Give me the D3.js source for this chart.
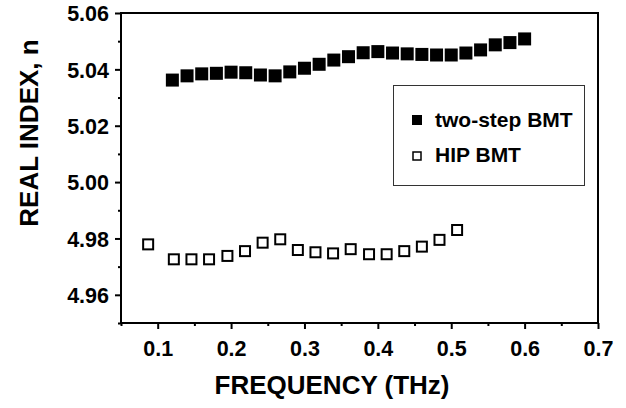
<!DOCTYPE html>
<html lang="en">
<head>
  <meta charset="UTF-8">
  <title>Real index vs frequency</title>
  <script src="https://d3js.org/d3.v7.min.js"></script>
  <style>
    body { margin: 0; background: #fff; }
    svg text { font-family: "Liberation Sans", Arial, sans-serif; font-weight: bold; fill: #000; }
  </style>
</head>
<body>
  <svg width="626" height="408"></svg>
  <script>
    // two-step BMT (filled squares)
    const freqTwoStep = [0.12, 0.14, 0.16, 0.18, 0.20, 0.22, 0.24, 0.26, 0.28, 0.30, 0.32, 0.34, 0.36,
                         0.38, 0.40, 0.42, 0.44, 0.46, 0.48, 0.50, 0.52, 0.54, 0.56, 0.58, 0.60];
    const indexTwoStep = [5.0362, 5.0377, 5.0384, 5.0386, 5.0390, 5.0388, 5.0380, 5.0377, 5.0391, 5.0404,
                          5.0418, 5.0433, 5.0445, 5.0459, 5.0463, 5.0458, 5.0455, 5.0453, 5.0451, 5.0451,
                          5.0458, 5.0469, 5.0487, 5.0495, 5.0508];

    // HIP BMT (open squares)
    const freqHip = [0.087, 0.122, 0.146, 0.170, 0.195, 0.219, 0.243, 0.267, 0.291, 0.315, 0.339, 0.363,
                     0.388, 0.412, 0.436, 0.460, 0.484, 0.508];
    const indexHip = [4.9779, 4.9726, 4.9726, 4.9726, 4.9738, 4.9755, 4.9785, 4.9797, 4.9759, 4.9751,
                      4.9747, 4.9762, 4.9744, 4.9744, 4.9755, 4.9771, 4.9795, 4.9830];

    const xTicks = [0.1, 0.2, 0.3, 0.4, 0.5, 0.6, 0.7];
    const xMinorTicks = [0.05, 0.15, 0.25, 0.35, 0.45, 0.55, 0.65];
    const yTicks = [4.96, 4.98, 5.00, 5.02, 5.04, 5.06];
    const yMinorTicks = [4.95, 4.97, 4.99, 5.01, 5.03, 5.05];
    const legendLabels = ["two-step BMT", "HIP BMT"];

    const plotLeft = 121, plotRight = 598, plotTop = 13, plotBottom = 323;
    const svg = d3.select("svg");

    const xScale = d3.scaleLinear().domain([0.05, 0.7]).range([plotLeft, plotRight]);
    const yScale = d3.scaleLinear().domain([4.95, 5.06]).range([plotBottom, plotTop]);

    // minor ticks first (no labels)
    svg.append("g").attr("transform", `translate(0,${plotBottom})`)
      .call(d3.axisBottom(xScale).tickValues(xMinorTicks).tickSize(3).tickFormat(""))
      .call(g => g.select(".domain").remove());
    svg.append("g").attr("transform", `translate(${plotLeft},0)`)
      .call(d3.axisLeft(yScale).tickValues(yMinorTicks).tickSize(3).tickFormat(""))
      .call(g => g.select(".domain").remove());

    // major ticks with labels
    const xAxis = svg.append("g").attr("transform", `translate(0,${plotBottom})`)
      .call(d3.axisBottom(xScale).tickValues(xTicks).tickSize(6).tickPadding(12).tickFormat(d3.format(".1f")))
      .call(g => g.select(".domain").remove());
    const yAxis = svg.append("g").attr("transform", `translate(${plotLeft},0)`)
      .call(d3.axisLeft(yScale).tickValues(yTicks).tickSize(6).tickPadding(6).tickFormat(d3.format(".2f")))
      .call(g => g.select(".domain").remove());

    svg.selectAll(".tick line").attr("stroke", "#000").attr("stroke-width", 2);
    svg.selectAll(".tick text").attr("font-size", 21.5).attr("font-family", null);
    yAxis.selectAll(".tick text").attr("dy", "0.36em");

    // frame around the plot
    svg.append("rect")
      .attr("x", plotLeft).attr("y", plotTop)
      .attr("width", plotRight - plotLeft).attr("height", plotBottom - plotTop)
      .attr("fill", "none").attr("stroke", "#000").attr("stroke-width", 2);

    // filled squares
    const sFill = 13;
    svg.selectAll(".twostep")
      .data(freqTwoStep)
      .enter()
      .append("rect")
      .attr("class", "twostep")
      .attr("x", (d, i) => xScale(d) - sFill / 2)
      .attr("y", (d, i) => yScale(indexTwoStep[i]) - sFill / 2)
      .attr("width", sFill).attr("height", sFill)
      .attr("fill", "#000");

    // open squares
    const sOpen = 10;
    svg.selectAll(".hip")
      .data(freqHip)
      .enter()
      .append("rect")
      .attr("class", "hip")
      .attr("x", (d, i) => xScale(d) - sOpen / 2)
      .attr("y", (d, i) => yScale(indexHip[i]) - sOpen / 2)
      .attr("width", sOpen).attr("height", sOpen)
      .attr("fill", "#fff").attr("stroke", "#000").attr("stroke-width", 2);

    // legend
    const legend = svg.append("g");
    legend.append("rect")
      .attr("x", 393.5).attr("y", 85.5).attr("width", 191).attr("height", 100)
      .attr("fill", "#fff").attr("stroke", "#333").attr("stroke-width", 1);
    legend.append("rect").attr("x", 412).attr("y", 115).attr("width", 10).attr("height", 10).attr("fill", "#000");
    legend.append("rect").attr("x", 413).attr("y", 152).attr("width", 8).attr("height", 8)
      .attr("fill", "#fff").attr("stroke", "#000").attr("stroke-width", 1.5);
    legend.selectAll(".legtext")
      .data(legendLabels)
      .enter()
      .append("text")
      .attr("class", "legtext")
      .attr("x", 435)
      .attr("y", (d, i) => 127 + i * 35)
      .attr("font-size", 21)
      .text(d => d);

    // axis titles
    svg.append("text")
      .attr("x", 332).attr("y", 394)
      .attr("text-anchor", "middle")
      .attr("font-size", 26)
      .text("FREQUENCY (THz)");
    svg.append("text")
      .attr("transform", "translate(38,133) rotate(-90)")
      .attr("text-anchor", "middle")
      .attr("font-size", 26)
      .text("REAL INDEX, n");
  </script>
</body>
</html>
